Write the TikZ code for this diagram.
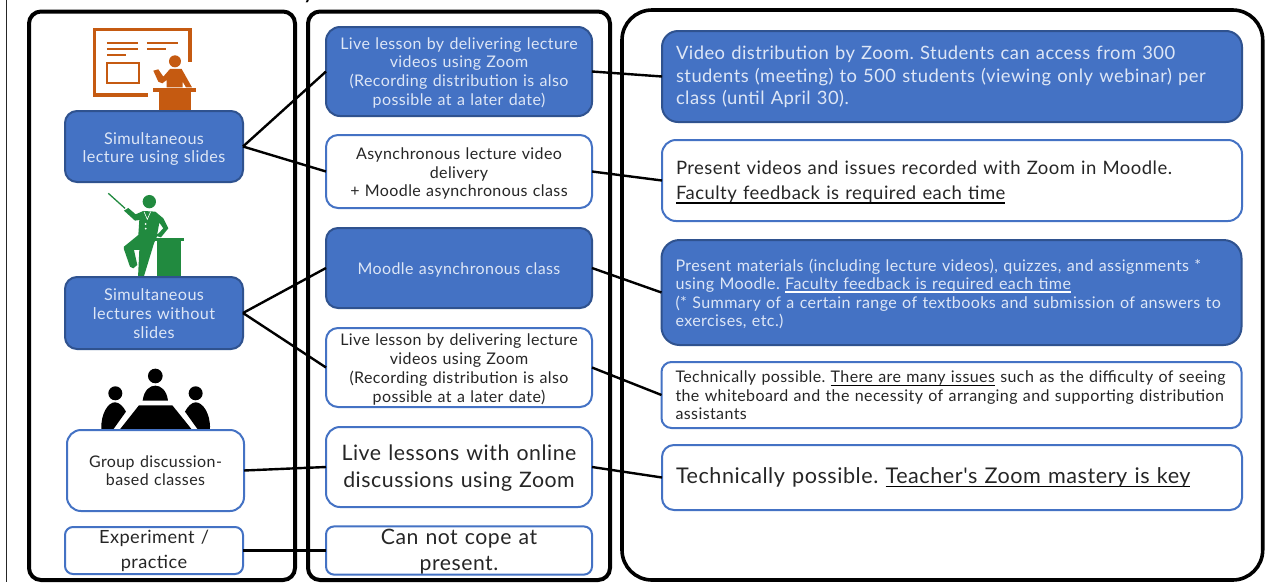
\documentclass[tikz,border=0pt]{standalone}
\usepackage{fontspec}
\setmainfont[LetterSpace=2.5,Ligatures=TeXOff]{Lato}
\frenchspacing
\definecolor{bluefill}{HTML}{4472C4}
\definecolor{blueedge}{HTML}{2F528F}
\definecolor{softwhite}{HTML}{DDE6F6}
\definecolor{inkdark}{HTML}{262626}
\definecolor{slideorange}{HTML}{C55A11}
\definecolor{teachgreen}{HTML}{218A3F}
\newcommand{\ulblack}[1]{\setbox0=\hbox{#1}\leavevmode\rlap{\color{black}\rule[-3.6pt]{\wd0}{1.7pt}}\box0 }
\newcommand{\ulwhite}[1]{\setbox0=\hbox{#1}\leavevmode\rlap{\color{white}\rule[-3.2pt]{\wd0}{1.5pt}}\box0 }
\newcommand{\boxrise}{0.95}
\tikzset{
  panel/.style={draw=black,line width=4pt,fill=white,rounded corners=12pt},
  rise/.code={\renewcommand{\boxrise}{#1}},
  basebox/.style={rectangle,outer sep=0pt,inner sep=0pt,align=center,execute at begin node={\rule{0pt}{\boxrise em}}},
  bluebox/.style={basebox,draw=blueedge,line width=2pt,fill=bluefill,text=softwhite,rounded corners=12pt},
  whitebox/.style={basebox,draw=bluefill,line width=2pt,fill=white,text=inkdark,rounded corners=12pt},
  leftcol/.style={text width=178pt},
  midcol/.style={text width=266pt},
  rightcol/.style={text width=552pt,inner xsep=14pt,align=left,minimum height=#1},
  link/.style={draw=black,line width=2.4pt},
  fs/.style 2 args={font=\fontsize{#1}{#2}\selectfont},
}
\begin{document}
\begin{tikzpicture}[x=1pt,y=-1pt]
\useasboundingbox (0,0) rectangle (1271,582);
\fill[white] (0,0) rectangle (1271,582);
\begin{scope}
\clip (0,0) rectangle (1271,582);
\node[anchor=base,font=\fontsize{25}{25}\selectfont,text=black,inner sep=0pt] (tail) at (309,-1.5) {y};
\end{scope}
\draw[black!85,line width=1.5pt] (6.5,0) -- (6.5,582);
% panels
\draw[panel] (29,11.5) rectangle (295,580);
\draw[panel] (308,11.5) rectangle (610,580);
\draw[panel,line width=3.6pt,rounded corners=30pt] (622,10) rectangle (1262.7,580);
% slide icon
\begin{scope}[x=0.3333pt,y=-0.3333pt]
\draw[slideorange,line width=3.3pt] (443,285) -- (284,285) -- (284,89) -- (570,89) -- (570,186);
\draw[slideorange,line width=2pt] (321,128) -- (415,128) (321,147) -- (415,147) (321,166) -- (378,166) (441,128) -- (535,128) (441,147) -- (497,147);
\draw[slideorange,line width=1.7pt] (321,190) rectangle (416,248);
\fill[slideorange] (525,184) circle (18);
\fill[slideorange] (460,212) -- (475,208) -- (490,230) -- (510,207) -- (545,207) -- (576,262) -- (558,262) -- (548,245) -- (548,262) -- (500,262) -- (500,240) -- (487,250) -- (475,245) -- cycle;
\fill[slideorange] (460,265) rectangle (588,277);
\fill[slideorange] (478,277) rectangle (572,335);
\end{scope}
\begin{scope}[x=0.3333pt,y=-0.3333pt]
\begin{scope}[shift={(0,540)}]
% teacher icon
\draw[teachgreen,line width=1.3pt] (325,40) -- (375,85);
\fill[teachgreen] (448,65) circle (20);
\fill[teachgreen] (372,92) -- (385,84) -- (407,103) -- (430,93) -- (466,95) -- (490,115) -- (505,145) -- (483,172) -- (468,168) -- (490,145) -- (478,128) -- (470,172) -- (462,190) -- (430,295) -- (414,295) -- (418,210) -- (402,210) -- (412,255) -- (400,265) -- (390,260) -- (372,208) -- (372,200) -- (415,165) -- (418,120) -- (405,122) -- cycle;
\draw[white,line width=0.6pt] (432,95) -- (442,118) -- (452,95);
\fill[white] (437,132) circle (3) (437,146) circle (3);
\fill[teachgreen] (462,173) rectangle (552,184);
\fill[teachgreen] (472,184) rectangle (544,292);
% meeting icon
\fill[black] (466,588) circle (22);
\fill[black] (428,662) .. controls (432,630) and (450,617) .. (466,617) .. controls (482,617) and (500,630) .. (504,662) -- cycle;
\fill[black] (346,640) circle (21);
\fill[black] (587,640) circle (21);
\fill[black] (304,748) .. controls (302,700) and (325,667) .. (345,667) .. controls (358,667) and (370,680) .. (378,695) -- (340,748) -- cycle;
\fill[black] (630,748) .. controls (632,700) and (608,667) .. (587,667) .. controls (575,667) and (563,680) .. (555,695) -- (593,748) -- cycle;
\fill[black] (417,676) -- (517,676) -- (575,748) -- (360,748) -- cycle;
\end{scope}
\end{scope}
% left column
\node[bluebox,rise=1.0,leftcol,minimum height=71pt,fs={16.2}{18}] (L1) at (154,146.5) {Simultaneous\\lecture using slides};
\node[bluebox,rise=0.87,leftcol,minimum height=72pt,fs={16.2}{19}] (L2) at (154,313) {Simultaneous\\lectures without\\slides};
\node[whitebox,rise=0.75,text width=177pt,minimum height=81pt,rounded corners=14pt,fs={16}{18}] (L3) at (155.5,470.5) {Group discussion-\\based classes};
\node[whitebox,rise=0.75,leftcol,minimum height=47pt,rounded corners=8pt,fs={18.2}{25}] (L4) at (154,550.5) {Experiment /\\practice};
% middle column
\node[bluebox,rise=0.9,midcol,minimum height=89pt,rounded corners=14pt,fs={16}{18.8}] (M1) at (459,71.5) {Live lesson by delivering lecture\\videos using Zoom\\(Recording distribution is also\\possible at a later date)};
\node[whitebox,rise=1.0,midcol,minimum height=73pt,fs={16}{18.6}] (M2) at (459,171.5) {Asynchronous lecture video\\delivery\\+ Moodle asynchronous class};
\node[bluebox,rise=1.0,midcol,minimum height=80pt,fs={16}{18}] (M3) at (459,268) {Moodle asynchronous class};
\node[whitebox,rise=1.0,midcol,minimum height=79pt,fs={16}{18.8}] (M4) at (459,367.5) {Live lesson by delivering lecture\\videos using Zoom\\(Recording distribution is also\\possible at a later date)};
\node[whitebox,rise=0.85,midcol,minimum height=80pt,rounded corners=14pt,fs={21.3}{27}] (M5) at (459,467) {Live lessons with online\\discussions using Zoom};
\node[whitebox,rise=0.85,midcol,minimum height=47pt,rounded corners=8pt,fs={21.2}{26.5}] (M6) at (459,550.5) {Can not cope at\\present.};
% right column
\node[bluebox,rise=0.8,rightcol=91pt,rounded corners=16pt,fs={18.4}{22.6}] (R1) at (952,76.5) {Video distribution by Zoom. Students can access from 300\\students (meeting) to 500 students (viewing only webinar) per\\class (until April 30).};
\node[whitebox,rightcol=81pt,rounded corners=14pt,fs={18.5}{25}] (R2) at (952,180.5) {Present videos and issues recorded with Zoom in Moodle.\\\ulblack{Faculty feedback is required each time}};
\node[bluebox,rightcol=105pt,rounded corners=18pt,fs={16.05}{18.6}] (R3) at (951.5,292.5) {Present materials (including lecture videos), quizzes, and assignments *\\using Moodle. \ulwhite{Faculty feedback is required each time}\\(* Summary of a certain range of textbooks and submission of answers to\\exercises, etc.)};
\node[whitebox,rise=0.8,rightcol=66pt,rounded corners=10pt,fs={16}{18.6}] (R4) at (951.5,395) {Technically possible. \ulblack{There are many issues} such as the difficulty of seeing\\the whiteboard and the necessity of arranging and supporting distribution\\assistants};
\node[whitebox,rise=0.4,rightcol=65pt,rounded corners=12pt,fs={21.6}{25}] (R5) at (952,477.5) {Technically possible. \ulblack{Teacher's Zoom mastery is key}};
% connectors
\draw[link] (L1.east) -- (M1.west);
\draw[link] (L1.east) -- (M2.west);
\draw[link] (L2.east) -- (M3.west);
\draw[link] (L2.east) -- (M4.west);
\draw[link] (L3.east) -- (M5.west);
\draw[link] (L4.east) -- (M6.west);
\draw[link] (M1.east) -- (R1.west);
\draw[link] (M2.east) -- (R2.west);
\draw[link] (M3.east) -- (R3.west);
\draw[link] (M4.east) -- (R4.west);
\draw[link] (M5.east) -- (R5.west);
\end{tikzpicture}
\end{document}
